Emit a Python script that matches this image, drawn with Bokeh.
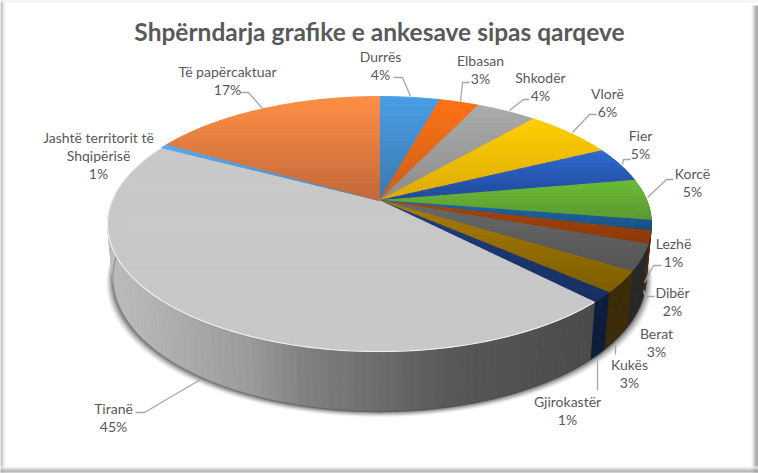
import math
from bokeh.plotting import figure
from bokeh.models import Range1d, ColumnDataSource
from bokeh.core.properties import value
from bokeh.embed import file_html
from bokeh.resources import INLINE

# ---- data ----
categories = ["Durrës", "Elbasan", "Shkodër", "Vlorë", "Fier", "Korcë", "Lezhë", "Dibër",
              "Berat", "Kukës", "Gjirokastër", "Tiranë", "Jashtë territorit të\nShqipërisë",
              "Të papërcaktuar"]
shares = [4.3, 2.8, 4.3, 6.4, 4.5, 5.2, 1.3, 1.6, 3.3, 2.7, 1.3, 45.0, 0.6, 16.7]
percent_labels = ["4%", "3%", "4%", "6%", "5%", "5%", "1%", "2%", "3%", "3%", "1%", "45%", "1%", "17%"]
title_text = "Shpërndarja grafike e ankesave sipas qarqeve"

# ---- style ----
face_top = ["#4A9EE6", "#FF7113", "#ABABAB", "#FFD000", "#2F6AD0", "#6CBB36", "#1F68A8", "#A8430A",
            "#686868", "#A87C00", "#1F3F80", "#C8C8C8", "#5BA8EC", "#FF8F45"]
face_bot = ["#3A78AE", "#C8601C", "#8C8C8C", "#DDA808", "#21489A", "#5A9A30", "#174F80", "#8A3A08",
            "#555555", "#7E5E00", "#182F60", "#C8C8C8", "#4A88C0", "#C2683A"]
wall_col = ["#3A78AE", "#C8601C", "#777777", "#A07C00", "#1B3A80", "#3F6E20", "#0E3358", "#5A2A08",
            "#262626", "#3A2C06", "#0C1C3A", None, "#2A4A70", "#7A4A20"]
wall_ramp = [(107, "#BEBEBE"), (250, "#9A9A9A"), (300, "#828282"), (450, "#585858"), (592, "#4A4A4A")]
TEXT = "#595959"
FONT = "Lato"

# projection of the tilted disc
CX, CY, A, B, K = 379.0, 200.0, 267.3, 123.2, 0.1844

def proj(theta):
    u, v = math.sin(theta), -math.cos(theta)
    d = 1 - K * v
    return CX + A * u / d, CY + B * v / d, v

def proj_low(theta):
    x, y, v = proj(theta)
    return CX + (x - CX) * 0.98, y + 52 + 8 * v

def mix(c1, c2, t):
    t = max(0, min(1, t))
    a = [int(c1[i:i + 2], 16) for i in (1, 3, 5)]
    b = [int(c2[i:i + 2], 16) for i in (1, 3, 5)]
    return "#%02x%02x%02x" % tuple(round(a[i] + (b[i] - a[i]) * t) for i in range(3))

def ramp(x):
    for (x0, c0), (x1, c1) in zip(wall_ramp, wall_ramp[1:]):
        if x <= x1:
            return mix(c0, c1, (x - x0) / (x1 - x0))
    return wall_ramp[-1][1]

def clip(poly, y0, y1):
    def cut(pts, lim, keep_below):
        out = []
        for i in range(len(pts)):
            p, q = pts[i], pts[(i + 1) % len(pts)]
            pin = p[1] >= lim if keep_below else p[1] <= lim
            qin = q[1] >= lim if keep_below else q[1] <= lim
            if pin:
                out.append(p)
            if pin != qin:
                s = (lim - p[1]) / (q[1] - p[1])
                out.append((p[0] + s * (q[0] - p[0]), lim))
        return out
    r = cut(poly, y0, True)
    return cut(r, y1, False) if r else r

p = figure(width=758, height=473, output_backend="svg", toolbar_location=None,
           x_range=Range1d(0, 758), y_range=Range1d(473, 0), min_border=0,
           background_fill_color="white", border_fill_color="white",
           outline_line_color=None)
p.axis.visible = False
p.grid.visible = False

# picture frame
for i, c in enumerate(["#a8a8a8", "#b8b8b8", "#d0d0d0", "#e8e8e8", "#f6f6f6"]):
    p.quad(left=i, right=i + 1, bottom=473, top=0, fill_color=c, line_color=None)
for i, c in enumerate(["#e4e4e4", "#f4f4f4"]):
    p.quad(left=0, right=758, top=i, bottom=i + 1, fill_color=c, line_color=None)
for i, c in enumerate(["#f4f4f4", "#e0e0e0", "#c8c8c8", "#b0b0b0", "#989898", "#8a8a8a", "#9a9a9a"]):
    p.quad(left=751 + i, right=752 + i, bottom=473, top=5, fill_color=c, line_color=None)
for i, c in enumerate(["#f4f4f4", "#e6e6e6", "#d0d0d0", "#b8b8b8", "#a0a0a0", "#a8a8a8", "#d0d0d0"]):
    p.quad(left=0, right=758, top=466 + i, bottom=467 + i, fill_color=c, line_color=None)

# boundaries of the slices
total = sum(shares)
edges = [0.0]
for s in shares:
    edges.append(edges[-1] + s / total * 2 * math.pi)

# soft shadow below the disc
steps = 180
for off, al in [(7, .04), (6, .05), (5, .07), (4, .09), (3, .11), (2, .13), (1, .15)]:
    xs, ys = [], []
    for j in range(steps + 1):
        th = math.pi / 2 - 0.15 + (math.pi + 0.3) * j / steps
        x, y = proj_low(th)
        xs.append(CX + (x - CX) * (1 + off / 272))
        ys.append(y + off * 0.8)
    p.patch(xs, ys, fill_color="black", fill_alpha=al, line_color=None)

# side wall
wx, wy, wc = [], [], []
order = sorted(range(len(shares)), key=lambda i: -abs(((edges[i] + edges[i + 1]) / 2) - math.pi))
for i in order:
    a0, a1 = edges[i], edges[i + 1]
    lo, hi = max(a0, math.pi / 2 - 0.12), min(a1, 3 * math.pi / 2 + 0.12)
    if hi <= lo:
        continue
    n = max(1, int((hi - lo) / 0.025))
    for j in range(n):
        t0 = lo + (hi - lo) * j / n
        t1 = lo + (hi - lo) * (j + 1) / n
        x0, y0, _ = proj(t0)
        x1, y1, _ = proj(t1)
        x2, y2 = proj_low(t1)
        x3, y3 = proj_low(t0)
        wx.append([x0, x1, x2, x3])
        wy.append([y0, y1, y2, y3])
        wc.append(ramp((x0 + x1) / 2) if wall_col[i] is None else wall_col[i])
p.patches("x", "y", source=ColumnDataSource(dict(x=wx, y=wy, c=wc)), fill_color="c", line_color="c", line_width=0.6)

# dark rim along the foot of the wall
rim = [proj_low(math.pi / 2 + math.pi * j / steps) for j in range(steps + 1)]
p.line([q[0] for q in rim], [q[1] for q in rim], line_color="#404040", line_alpha=0.35, line_width=1.2)

# top faces, split in thin bands for the vertical shading
fx, fy, fc = [], [], []
for i in range(len(shares)):
    a0, a1 = edges[i], edges[i + 1]
    n = max(2, int((a1 - a0) / 0.02))
    poly = [(CX, CY)]
    for j in range(n + 1):
        x, y, _ = proj(a0 + (a1 - a0) * j / n)
        poly.append((x, y))
    ymin = min(q[1] for q in poly)
    ymax = max(q[1] for q in poly)
    nb = max(1, int((ymax - ymin) / 3))
    for b in range(nb):
        y0 = ymin + (ymax - ymin) * b / nb
        y1 = ymin + (ymax - ymin) * (b + 1) / nb
        piece = clip(poly, y0, y1)
        if len(piece) >= 3:
            fx.append([q[0] for q in piece])
            fy.append([q[1] for q in piece])
            fc.append(mix(face_top[i], face_bot[i], (b + .5) / nb))
p.patches("x", "y", source=ColumnDataSource(dict(x=fx, y=fy, c=fc)), fill_color="c", line_color="c", line_width=0.9)

# pale bevel along the front edge of the largest slice
big = shares.index(max(shares))
n = 150
bevel = [proj(edges[big] + (edges[big + 1] - edges[big]) * j / n) for j in range(n + 1)]
p.line([q[0] for q in bevel], [q[1] for q in bevel], line_color="white", line_alpha=0.75, line_width=1.1)

# leader lines
leaders = [
    [(410, 96), (402, 77), (393, 77)],
    [(460, 101), (462, 82), (469, 82)],
    [(509, 110), (523, 99), (529, 99)],
    [(572, 132), (589, 114), (596, 114)],
    [(622, 164), (623, 159), (630, 159)],
    [(647, 197), (666, 179), (673, 179)],
    [(644, 282), (653, 265), (661, 265)],
    [(643, 290), (645, 296), (654, 296)],
    [(615, 345), (615, 354)],
    [(597, 360), (597, 390)],
    [(200, 379), (144, 412), (135, 412)],
    [(262, 108), (248, 92), (240, 92)],
]
for path in leaders:
    p.line([q[0] for q in path], [q[1] for q in path], line_color="#A6A6A6", line_width=1.3)

# labels
label_pos = [(380, 56), (480, 60), (540, 77), (607, 93), (640, 135), (692, 173), (673, 243), (672, 292),
             (656, 333), (629, 364), (567, 401), (113, 408), (98, 137), (227, 71)]
tx, ty, tt = [], [], []
for (x, y), c, l in zip(label_pos, categories, percent_labels):
    lines = c.split("\n") + [l]
    for k, ln in enumerate(lines):
        tx.append(x)
        ty.append(y + k * 18)
        tt.append(ln)
p.text(tx, ty, text=tt, text_font=value(FONT), text_font_size="14px", text_color=TEXT,
       text_align="center", text_baseline="middle")
p.text([379], [31], text=[title_text], text_font=value(FONT), text_font_size="24.5px",
       text_font_style="bold", text_color=TEXT, text_align="center", text_baseline="middle")

open("out.html", "w").write(file_html(p, INLINE))
